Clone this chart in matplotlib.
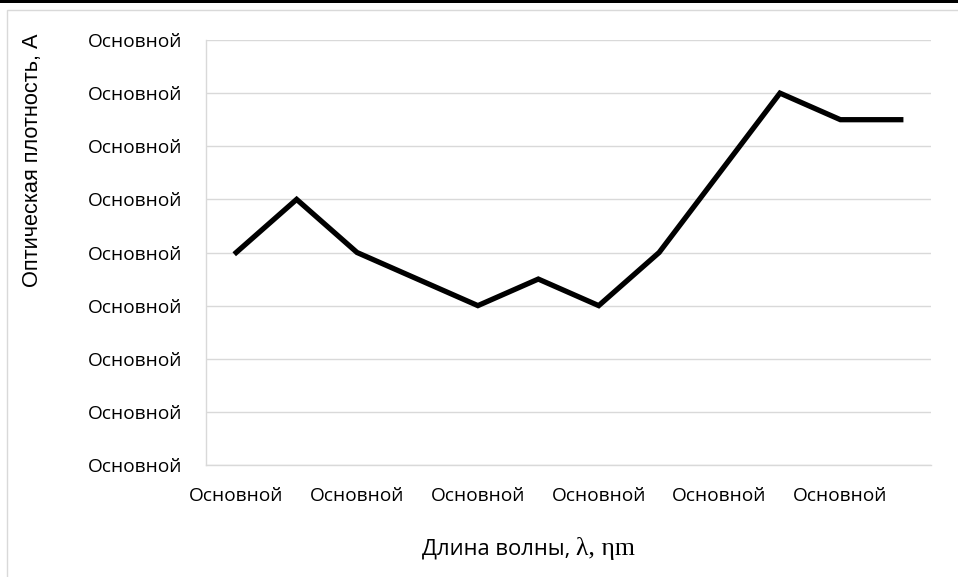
import matplotlib.pyplot as plt
from matplotlib.patches import Rectangle

# Chart data
categories = ['Основной'] * 12
values = [4, 5, 4, 3.5, 3, 3.5, 3, 4, 5.5, 7, 6.5, 6.5]
y_ticks = list(range(0, 9))
y_tick_labels = ['Основной'] * 9

plt.rcParams['font.family'] = ['Open Sans', 'DejaVu Sans']

W, H = 958, 577
fig = plt.figure(figsize=(W / 100, H / 100), dpi=100)
ax = fig.add_axes([206 / W, 1 - 465 / H, (931 - 206) / W, (465 - 40) / H])

x = list(range(len(values)))
ax.plot(x, values, color='black', linewidth=3.8, solid_joinstyle='miter')

ax.set_xlim(-0.5, len(values) - 0.5)
ax.set_ylim(0, 8)
ax.set_yticks(y_ticks)
ax.set_yticklabels(y_tick_labels, fontsize=13.8)
ax.set_xticks(x[::2])
ax.set_xticklabels(categories[::2], fontsize=13.8)
ax.tick_params(axis='x', length=0, pad=16)
ax.tick_params(axis='y', length=0, pad=0)
for lbl in ax.get_yticklabels():
    lbl.set_horizontalalignment('left')
    lbl.set_x(-(206 - 88) / (931 - 206))

ax.grid(axis='y', color='#d9d9d9', linewidth=1)
ax.set_axisbelow(True)
for side in ['top', 'right']:
    ax.spines[side].set_visible(False)
for side in ['left', 'bottom']:
    ax.spines[side].set_color('#d9d9d9')
    ax.spines[side].set_linewidth(1)

# axis titles
fig.text(33 / W, 1 - 160 / H, 'Оптическая плотность, А', rotation=90,
         ha='center', va='center', fontsize=15.7, family='Liberation Sans')

t1 = fig.text(0, 1 - 549 / H, 'Длина волны, ', ha='left', va='center', fontsize=15.8)
t2 = fig.text(0, 1 - 549 / H, 'λ, ηm', ha='left', va='center', fontsize=18.5,
              family='Liberation Serif')
fig.canvas.draw()
r = fig.canvas.get_renderer()
w1 = t1.get_window_extent(r).width
w2 = t2.get_window_extent(r).width
start = 528 - (w1 + w2) / 2
t1.set_x(start / W)
t2.set_x((start + w1) / W)

# outer chart border and top band
fig.patches.append(Rectangle((7 / W, -0.01), 1, 1 - 10 / H + 0.01, transform=fig.transFigure,
                             fill=False, edgecolor='#d9d9d9', linewidth=1))
fig.patches.append(Rectangle((0, 1 - 3 / H), 1, 3 / H, transform=fig.transFigure,
                             facecolor='black', edgecolor='none'))

fig.savefig('out.png', dpi=100)
